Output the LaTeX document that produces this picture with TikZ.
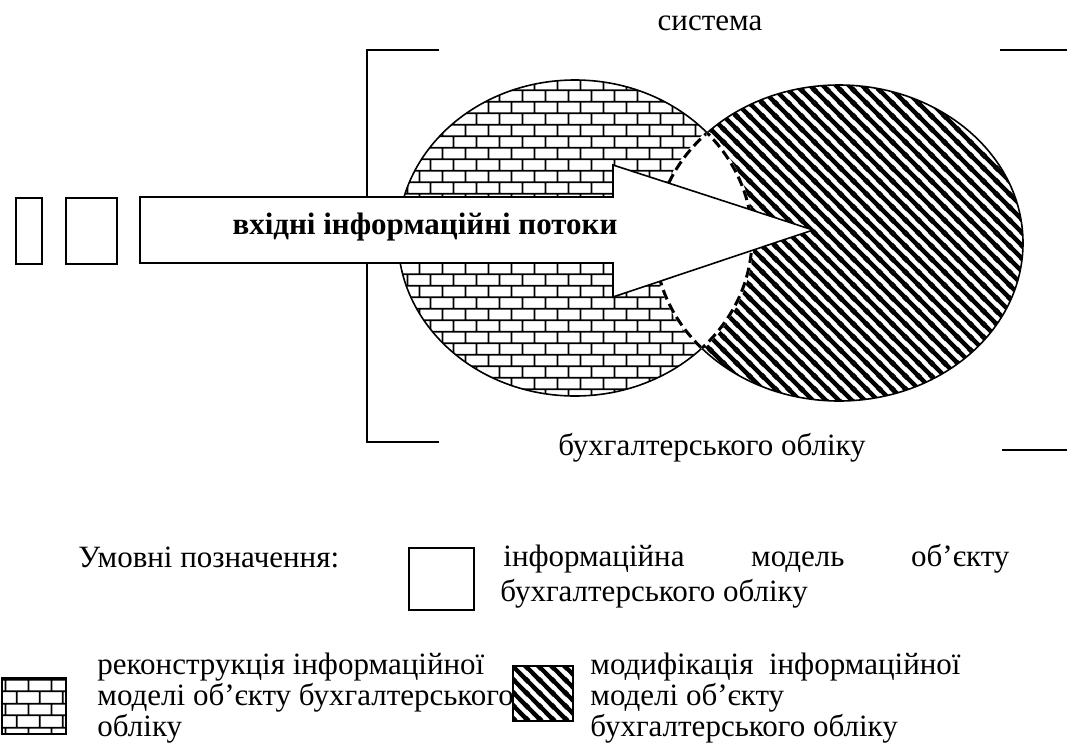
\documentclass[tikz,border=0pt]{standalone}
\usepackage{fontspec}
\setmainfont{Liberation Serif}
\usetikzlibrary{patterns.meta}

\tikzdeclarepattern{
  name=brickwall,
  type=uncolored,
  bounding box={(0pt,0pt) and (11.5pt,11.7pt)},
  tile size={(11.5pt,11.7pt)},
  code={
    \draw[line width=0.9pt]
      (-1pt,2.925pt) -- (12.5pt,2.925pt)
      (-1pt,8.775pt) -- (12.5pt,8.775pt)
      (2.875pt,2.925pt) -- (2.875pt,8.775pt)
      (8.625pt,8.775pt) -- (8.625pt,12.7pt)
      (8.625pt,-1pt) -- (8.625pt,2.925pt);
  }
}
\tikzdeclarepattern{
  name=diagstripes,
  type=uncolored,
  bounding box={(0pt,0pt) and (6.6pt,6.6pt)},
  tile size={(6.6pt,6.6pt)},
  code={
    \draw[line width=2.3pt]
      (0pt,6.6pt) -- (6.6pt,0pt)
      (-1.5pt,1.5pt) -- (1.5pt,-1.5pt)
      (5.1pt,8.1pt) -- (8.1pt,5.1pt);
  }
}

\tikzset{
  txt/.style={font=\fontsize{15.5pt}{18pt}\selectfont, inner sep=0pt},
  bold/.style={font=\fontsize{15.5pt}{18pt}\selectfont\bfseries, inner sep=0pt},
  outline/.style={line width=0.8pt},
  lensline/.style={line width=1.5pt, dash pattern=on 5pt off 2.5pt},
  smallbox/.style={draw, line width=1pt, inner sep=0pt},
}

\begin{document}
\begin{tikzpicture}[x=0.5pt,y=-0.5pt]
\useasboundingbox (0,0) rectangle (1067,745);

% bracket
\draw[outline] (439,50) -- (367,50) -- (367,442) -- (439,442);
\draw[outline] (1000,50) -- (1067,50);
\draw[outline] (1002,450) -- (1067,450);

% patterned ellipses
\fill[pattern=brickwall] (575,238) ellipse [x radius=177, y radius=158];
\fill[pattern=diagstripes] (839,243) ellipse [x radius=184, y radius=158];
\draw[outline] (575,238) ellipse [x radius=177, y radius=158];
\draw[outline] (839,243) ellipse [x radius=184, y radius=158];

% white lens
\begin{scope}
  \clip (575,238) ellipse [x radius=177, y radius=158];
  \fill[white] (839,243) ellipse [x radius=184, y radius=158];
  \draw[white, line width=1.6pt] (839,243) ellipse [x radius=184, y radius=158];
  \draw[lensline] (839,243) ellipse [x radius=184, y radius=158];
\end{scope}
\begin{scope}
  \clip (839,243) ellipse [x radius=184, y radius=158];
  \draw[white, line width=1.6pt] (575,238) ellipse [x radius=177, y radius=158];
  \draw[lensline] (575,238) ellipse [x radius=177, y radius=158];
\end{scope}

% arrow
\draw[outline, fill=white] (140,197) -- (613,197) -- (613,165) -- (813,230)
  -- (613,297) -- (613,263) -- (140,263) -- cycle;
\node[bold, anchor=base] (flow) at (425,234) {вхідні інформаційні потоки};

% small boxes
\node[smallbox, minimum width=13pt, minimum height=33pt, anchor=north west] (b1) at (15,197) {};
\node[smallbox, minimum width=25.5pt, minimum height=33pt, anchor=north west] (b2) at (65,197) {};

% labels
\node[txt, anchor=base] (sys) at (710,30) {система};
\node[txt, anchor=base] (acc) at (712,455) {бухгалтерського обліку};

% legend
\node[txt, anchor=base west] (leg) at (78,567) {Умовні позначення:};
\node[smallbox, minimum width=32.5pt, minimum height=31pt, anchor=north west] (lb1) at (408,547) {};
\node[txt, anchor=base west] (lt1) at (503,566)
  {\makebox[253pt][s]{інформаційна модель об’єкту}};
\node[txt, anchor=base west] (lt2) at (500,601) {бухгалтерського обліку};

\draw[line width=1pt, pattern=brickwall] (2,678) rectangle (66,734);
\node[txt, anchor=base west] (r1) at (97,674) {реконструкція інформаційної};
\node[txt, anchor=base west] (r2) at (97,705) {моделі об’єкту бухгалтерського};
\node[txt, anchor=base west] (r3) at (97,736) {обліку};

\draw[line width=1pt, pattern=diagstripes] (513,666) rectangle (573,721);
\node[txt, anchor=base west] (m1) at (590,674) {модифікація\ \ інформаційної};
\node[txt, anchor=base west] (m2) at (590,705) {моделі об’єкту};
\node[txt, anchor=base west] (m3) at (590,736) {бухгалтерського обліку};
\end{tikzpicture}
\end{document}
